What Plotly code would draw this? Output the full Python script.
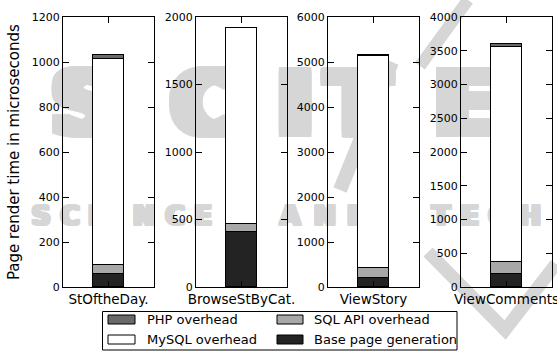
import plotly.graph_objects as go

W, H = 557, 351

# Page types and their render-time breakdown (microseconds)
pages = ["StOftheDay.", "BrowseStByCat.", "ViewStory", "ViewComments"]
base_page = [58, 405, 207, 193]
sql_api = [39, 62, 208, 177]
mysql = [918, 1450, 4725, 3190]
php = [15, 3, 8, 34]

# Per-panel y-axis extent and tick spacing
y_max = [1200, 2000, 6000, 4000]
y_step = [200, 500, 1000, 500]

series_names = ["Base page generation", "SQL API overhead", "MySQL overhead", "PHP overhead"]
series_values = [base_page, sql_api, mysql, php]
series_colors = ["#232323", "#a8a8a8", "#ffffff", "#6a6a6a"]

# Publisher watermark lettering behind the panels
wm_big_text = ["S", "C", "I", "T", "E"]
wm_small_text = list("SCIENCE") + list("AND") + list("TECH")

FONT = "DejaVu Sans"
WM = "#d6d6d6"

# panel pixel boxes
panel_x = [(63, 154), (196, 287), (328, 419), (461, 552)]
plot_top, plot_bot = 17, 287


def px(x):
    return x / W


def py(y):
    return 1 - y / H


fig = go.Figure()

# full-page backdrop axes (pixel units), drawn beneath the four panels
wm_big_x = [85, 205, 295, 358, 466]
wm_small_x = [41, 70, 93, 113, 144, 175, 203, 290, 325, 358, 441, 470, 498, 530]


def thick(rx, ry):
    offs = []
    for a in range(-rx, rx + 1, 2):
        for b in (-ry, 0, ry):
            offs.append((a, b))
    return ", ".join(f"{a}px {b}px 0 {WM}" for a, b in offs)


fig.add_trace(go.Scatter(
    x=wm_big_x, y=[112] * len(wm_big_x), text=wm_big_text, mode="text",
    textfont=dict(family=FONT, size=88, color=WM, weight="bold", shadow=thick(8, 3)),
    xaxis="x", yaxis="y", hoverinfo="skip", showlegend=False))
fig.add_trace(go.Scatter(
    x=wm_small_x, y=[218] * len(wm_small_x), text=wm_small_text, mode="text",
    textfont=dict(family=FONT, size=26, color=WM, weight="bold", shadow=thick(2, 1)),
    xaxis="x", yaxis="y", hoverinfo="skip", showlegend=False))
fig.layout["xaxis"] = dict(domain=[0, 1], range=[0, W], visible=False, fixedrange=True)
fig.layout["yaxis"] = dict(domain=[0, 1], range=[H, 0], visible=False, fixedrange=True)

for i, page in enumerate(pages):
    k = str(i + 2)
    for name, vals, col in zip(series_names, series_values, series_colors):
        fig.add_trace(go.Bar(
            x=[page], y=[vals[i]], name=name, width=0.8,
            marker=dict(color=col, line=dict(color="black", width=1)),
            xaxis="x" + k, yaxis="y" + k, showlegend=False,
            hoverinfo="name+y",
        ))
    x0, x1 = panel_x[i]
    common = dict(showline=True, linecolor="black", linewidth=1, mirror="ticks",
                  ticks="inside", ticklen=6, tickwidth=1, tickcolor="black",
                  showgrid=False, zeroline=False, fixedrange=True, automargin=False)
    fig.layout["xaxis" + k] = dict(
        domain=[px(x0), px(x1)], type="category", range=[-1.17, 1.17],
        anchor="y" + k, tickfont=dict(family=FONT, size=13.5, color="black"),
        **common)
    fig.layout["yaxis" + k] = dict(
        domain=[py(plot_bot), py(plot_top)], range=[0, y_max[i]],
        tickvals=list(range(0, y_max[i] + 1, y_step[i])),
        anchor="x" + k, tickfont=dict(family=FONT, size=11, color="black"),
        **common)

shapes = []
# logo strokes of the watermark
shapes.append(dict(type="path", xref="paper", yref="paper", layer="below",
                   path=f"M {px(428)} {py(252)} L {px(505)} {py(330)} L {px(556)} {py(264)}",
                   line=dict(color=WM, width=13)))
shapes.append(dict(type="line", xref="paper", yref="paper", layer="below",
                   x0=px(392), y0=py(62), x1=px(340), y1=py(190),
                   line=dict(color=WM, width=14)))
shapes.append(dict(type="line", xref="paper", yref="paper", layer="below",
                   x0=px(468), y0=py(0), x1=px(420), y1=py(66),
                   line=dict(color=WM, width=12)))

# legend frame and swatches
shapes.append(dict(type="rect", xref="paper", yref="paper",
                   x0=px(102.5), x1=px(457), y0=py(350), y1=py(311.5),
                   line=dict(color="black", width=1), fillcolor="white"))

legend_order = ["PHP overhead", "SQL API overhead", "MySQL overhead", "Base page generation"]
col_sw = [(108, 135), (277, 303)]
col_tx = [145, 312]
row_y = [319.5, 339.5]
annotations = []
for j, name in enumerate(legend_order):
    r, c = divmod(j, 2)
    col = series_colors[series_names.index(name)]
    sx0, sx1 = col_sw[c]
    shapes.append(dict(type="rect", xref="paper", yref="paper",
                       x0=px(sx0), x1=px(sx1), y0=py(row_y[r] + 4.5), y1=py(row_y[r] - 4.5),
                       line=dict(color="black", width=1), fillcolor=col))
    annotations.append(dict(text=name, xref="paper", yref="paper",
                            x=px(col_tx[c]), y=py(row_y[r]), xanchor="left", yanchor="middle",
                            showarrow=False, font=dict(family=FONT, size=13, color="black")))

annotations.append(dict(text="Page render time in microseconds", xref="paper", yref="paper",
                        x=px(14), y=py((plot_top + plot_bot) / 2), textangle=-90,
                        xanchor="center", yanchor="middle", showarrow=False,
                        font=dict(family=FONT, size=15, color="black")))

fig.update_layout(
    width=W, height=H, margin=dict(l=0, r=0, t=0, b=0, pad=0, autoexpand=False),
    paper_bgcolor="white", plot_bgcolor="rgba(0,0,0,0)",
    barmode="stack", bargap=0, showlegend=False,
    font=dict(family=FONT, color="black"),
    shapes=shapes, annotations=annotations,
)

fig.write_html("out.html")
